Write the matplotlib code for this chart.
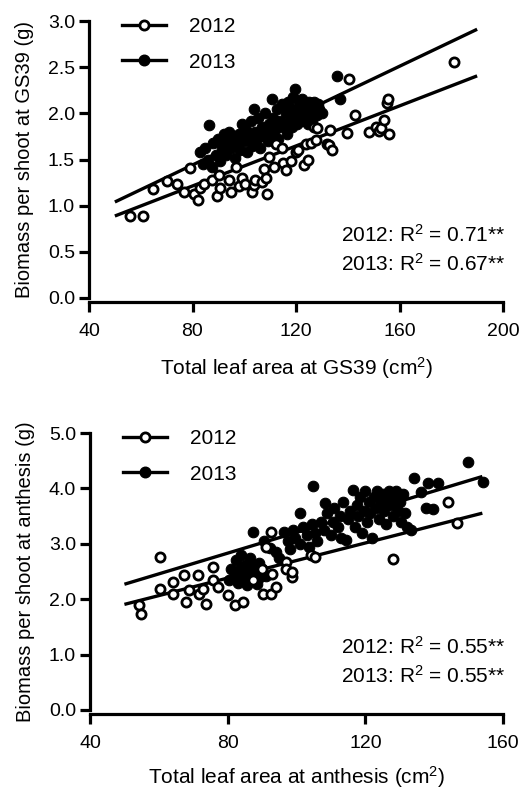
import numpy as np
import matplotlib.pyplot as plt
from matplotlib.lines import Line2D

plt.rcParams['font.family'] = ['Liberation Sans', 'DejaVu Sans']
plt.rcParams['mathtext.default'] = 'regular'

# ---- panel A: GS39 ----
gs39_2012 = [(55.9, 0.89), (60.7, 0.89), (64.7, 1.18), (70.1, 1.27), (74.2, 1.24), (76.6, 1.15),
             (79.0, 1.41), (80.4, 1.13), (82.0, 1.06), (82.9, 1.19), (84.5, 1.24), (87.6, 1.28),
             (89.6, 1.10), (90.1, 1.33), (90.8, 1.19), (94.0, 1.28), (94.9, 1.15),
             (96.7, 1.42), (97.9, 1.21), (99.2, 1.30), (100.4, 1.24),
             (103.0, 1.15), (103.8, 1.22), (104.3, 1.28), (106.8, 1.26), (107.5, 1.40),
             (108.3, 1.30), (108.8, 1.13), (109.7, 1.53), (111.4, 1.42), (112.1, 1.67),
             (114.7, 1.62), (115.1, 1.46), (116.1, 1.39), (118.0, 1.48), (119.9, 1.58), (120.6, 1.60),
             (122.9, 1.44), (123.8, 1.67), (124.8, 1.50), (125.8, 1.68), (127.0, 1.85), (127.7, 1.71),
             (128.3, 1.84), (132.1, 1.67), (132.9, 1.66), (133.1, 1.82), (134.0, 1.60), (139.9, 1.79),
             (140.6, 2.37), (142.8, 1.98), (148.3, 1.80), (150.8, 1.85), (152.1, 1.81), (152.9, 1.84),
             (154.1, 1.93), (155.0, 2.11), (155.4, 2.16), (156.0, 1.78), (181.2, 2.56)]
gs39_2013 = [(83.0, 1.58), (84.0, 1.45), (85.0, 1.62), (86.0, 1.50), (86.5, 1.87), (87.5, 1.42),
             (88.0, 1.68), (89.0, 1.55), (90.0, 1.72), (90.5, 1.48), (91.5, 1.62), (92.0, 1.78),
             (93.0, 1.55), (93.5, 1.70), (94.0, 1.80), (95.0, 1.62), (95.5, 1.75), (96.5, 1.52),
             (97.0, 1.68), (98.0, 1.78), (98.5, 1.60), (99.0, 1.88), (100.0, 1.70), (100.5, 1.82),
             (101.0, 1.58), (102.0, 1.75), (102.5, 1.92), (103.0, 1.65), (103.6, 2.05), (104.0, 1.80),
             (105.0, 1.72), (105.5, 1.95), (106.0, 1.62), (107.0, 1.85), (107.5, 1.75), (108.0, 2.00),
             (109.0, 1.70), (109.5, 1.88), (110.0, 1.78), (110.8, 2.16), (111.0, 1.95), (112.0, 1.82),
             (112.5, 2.05), (113.0, 1.72), (114.0, 1.92), (114.5, 2.10), (115.0, 1.85), (116.0, 2.00),
             (116.5, 1.78), (117.0, 2.12), (117.5, 1.92), (118.0, 2.05), (118.5, 1.85), (119.0, 2.18),
             (119.8, 2.26), (120.0, 1.98), (120.5, 1.88), (121.0, 2.10), (121.5, 2.02), (122.0, 1.92),
             (122.5, 2.15), (123.0, 2.05), (123.5, 1.95), (124.0, 2.08), (124.5, 1.88), (125.0, 2.12),
             (125.5, 2.00), (126.0, 1.92), (126.5, 2.08), (127.0, 2.12), (128.0, 1.98), (128.5, 2.10),
             (129.0, 2.05), (130.0, 2.00), (136.0, 2.40), (137.0, 2.15)]
gs39_fit = {'2012': (0.01084, 0.346), '2013': (0.01336, 0.372)}
gs39_fit_x = (50, 190)
gs39_r2 = ['2012: R$^2$ = 0.71**', '2013: R$^2$ = 0.67**']

# ---- panel B: anthesis ----
anth_2012 = [(54.3, 1.89), (54.8, 1.73), (60.3, 2.76), (60.2, 2.19), (64.0, 2.31), (64.0, 2.10),
             (67.4, 2.43), (67.9, 1.95), (68.9, 2.16), (71.3, 2.43), (71.8, 2.10), (72.8, 2.19),
             (73.8, 1.92), (75.7, 2.34), (75.7, 2.58), (77.1, 2.22), (80.0, 2.07), (82.0, 1.89),
             (84.4, 1.95), (87.5, 2.35), (90.0, 2.55), (90.2, 2.10), (91.2, 2.94), (92.7, 2.10),
             (92.7, 3.22), (93.0, 2.46), (94.0, 2.22), (96.9, 2.67), (97.0, 2.55), (98.8, 2.40),
             (98.8, 2.49), (104.1, 2.79), (105.5, 2.76), (128.0, 2.73), (144.0, 3.76), (146.6, 3.37)]
anth_2013 = [(80.5, 2.35), (81.0, 2.55), (82.0, 2.45), (82.5, 2.70), (83.0, 2.30), (83.5, 2.55),
             (84.0, 2.80), (84.5, 2.40), (85.0, 2.62), (85.5, 2.25), (86.0, 2.50), (86.5, 2.75),
             (87.0, 2.35), (87.5, 2.60), (88.0, 2.45), (88.5, 2.28), (89.0, 2.65), (89.5, 2.40),
             (90.0, 2.55), (91.0, 2.42), (87.3, 3.21), (92.2, 2.92), (90.5, 3.05), (94.0, 2.85),
             (95.0, 2.75), (96.5, 3.21), (97.5, 3.05), (98.0, 2.90), (99.0, 3.25), (99.5, 3.10),
             (100.9, 3.55), (101.0, 3.00), (102.0, 3.30), (103.0, 3.15), (103.5, 2.95), (104.7, 4.04),
             (104.5, 3.35), (105.5, 3.20), (106.0, 3.05), (107.0, 3.40), (108.2, 3.73), (108.0, 3.25),
             (109.0, 3.55), (110.0, 3.15), (110.5, 3.40), (111.0, 3.65), (112.0, 3.30), (112.5, 3.50),
             (113.0, 3.10), (113.5, 3.75), (114.5, 3.07), (115.0, 3.45), (115.5, 3.60), (116.4, 3.97),
             (117.0, 3.30), (117.5, 3.70), (118.0, 3.50), (118.5, 3.85), (119.0, 3.20), (119.5, 3.60),
             (120.0, 3.95), (120.5, 3.40), (121.0, 3.75), (121.5, 3.55), (122.0, 3.10), (122.5, 3.85),
             (123.0, 3.65), (123.5, 3.95), (124.0, 3.45), (124.5, 3.75), (125.0, 3.90), (125.5, 3.60),
             (126.0, 3.35), (126.5, 3.80), (127.0, 3.95), (127.5, 3.70), (128.0, 3.50), (128.5, 3.85),
             (129.0, 3.95), (129.5, 3.60), (130.0, 3.75), (130.5, 3.40), (131.0, 3.90), (131.5, 3.55),
             (132.0, 3.30), (133.4, 3.25), (134.1, 4.18), (136.3, 3.94), (137.7, 3.64), (138.3, 4.09),
             (139.6, 3.62), (141.2, 4.09), (149.9, 4.48), (154.3, 4.12)]
anth_fit = {'2012': (0.01583, 1.115), '2013': (0.0187, 1.335)}
anth_fit_x = (50, 154)
anth_r2 = ['2012: R$^2$ = 0.55**', '2013: R$^2$ = 0.55**']

W, H = 527, 791
fig = plt.figure(figsize=(W / 100, H / 100), dpi=100)


def panel(rect, d12, d13, fit, fit_x, r2, xlim, xticks, ylim, yticks, xlabel, ylabel, xpad):
    ax = fig.add_axes(rect)
    a12 = np.array(d12)
    a13 = np.array(d13)
    xs = np.array(fit_x)
    for yr in ('2012', '2013'):
        m, b = fit[yr]
        ax.plot(xs, m * xs + b, color='black', lw=2.4, zorder=2, solid_capstyle='butt')
    ax.plot(a13[:, 0], a13[:, 1], 'o', ms=7.6, mfc='black', mec='black', mew=0.8, zorder=3)
    ax.plot(a12[:, 0], a12[:, 1], 'o', ms=6.6, mfc='white', mec='black', mew=2.0, zorder=4)

    ax.set_xlim(*xlim)
    ax.set_ylim(*ylim)
    ax.set_xticks(xticks)
    ax.set_yticks(yticks)
    ax.set_yticklabels([f'{v:.1f}' for v in yticks])
    for s in ('top', 'right'):
        ax.spines[s].set_visible(False)
    for s in ('left', 'bottom'):
        ax.spines[s].set_linewidth(2.3)
    ax.spines['bottom'].set_position(('outward', 3))
    ax.tick_params(width=2.3, length=7, labelsize=14, direction='out')
    ax.tick_params(axis='y', pad=3)
    ax.tick_params(axis='x', pad=8)
    ax.set_xlabel(xlabel, fontsize=15, labelpad=xpad)
    ax.set_ylabel(ylabel, fontsize=14.5, labelpad=10)

    handles = [Line2D([], [], color='black', lw=2.4, marker='o', ms=6.6, mfc='white', mec='black', mew=2.0),
               Line2D([], [], color='black', lw=2.4, marker='o', ms=7.6, mfc='black', mec='black')]
    ax.legend(handles, ['2012', '2013'], loc='upper left', bbox_to_anchor=(0.08, 1.015),
              frameon=False, fontsize=15, handlelength=2.1, handletextpad=1.1,
              labelspacing=0.8, borderpad=0, borderaxespad=0)
    ax.text(1.005, 0.228, r2[0], transform=ax.transAxes, ha='right', va='center', fontsize=15)
    ax.text(1.005, 0.124, r2[1], transform=ax.transAxes, ha='right', va='center', fontsize=15)
    return ax


panel([89 / W, 1 - 298 / H, 414 / W, 277 / H], gs39_2012, gs39_2013, gs39_fit, gs39_fit_x, gs39_r2,
      (40, 200), [40, 80, 120, 160, 200], (0, 3.0), np.arange(0, 3.01, 0.5),
      'Total leaf area at GS39 (cm$^2$)', 'Biomass per shoot at GS39 (g)', 11)
panel([90 / W, 1 - 710 / H, 413 / W, 277 / H], anth_2012, anth_2013, anth_fit, anth_fit_x, anth_r2,
      (40, 160), [40, 80, 120, 160], (0, 5.0), np.arange(0, 5.01, 1.0),
      'Total leaf area at anthesis (cm$^2$)', 'Biomass per shoot at anthesis (g)', 9)

fig.savefig('out.png', dpi=100)
